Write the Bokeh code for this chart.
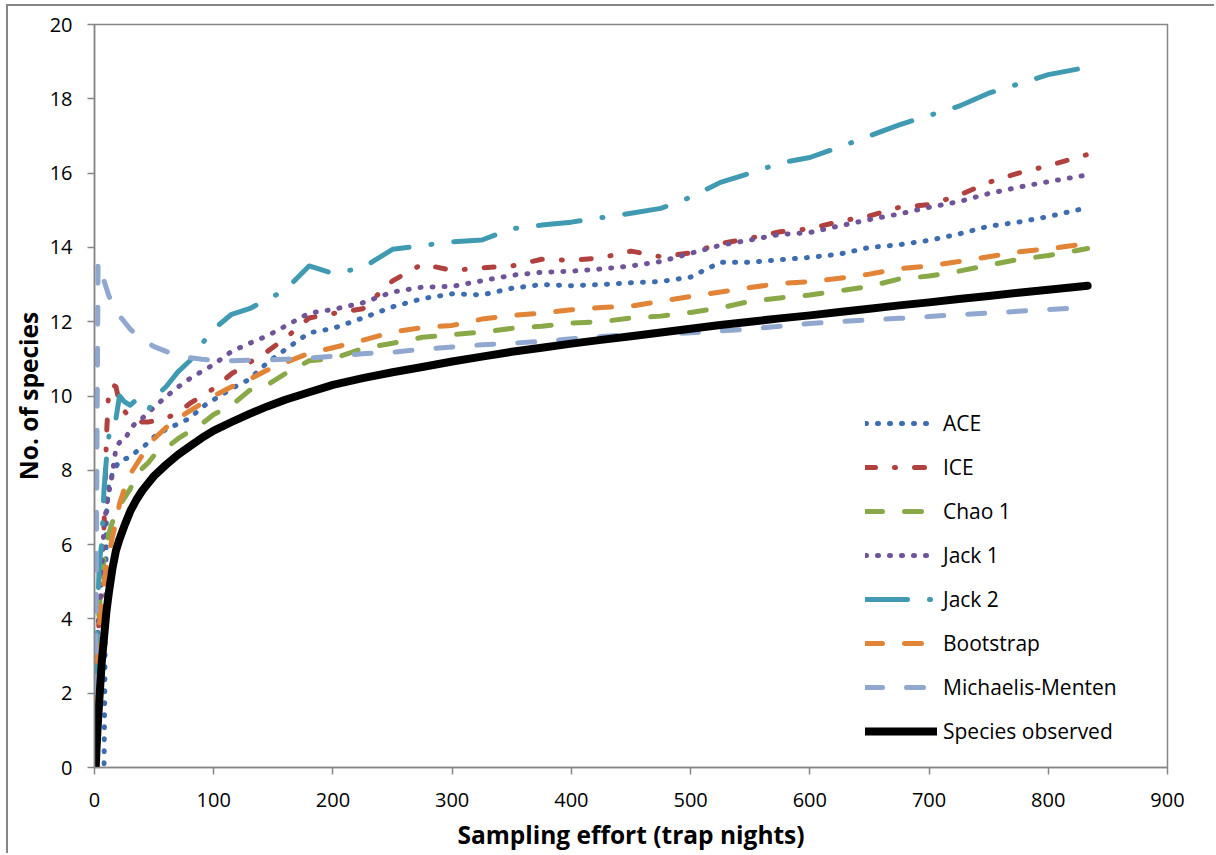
from bokeh.plotting import figure
from bokeh.models import Legend, LegendItem, Range1d, FixedTicker
from bokeh.embed import file_html
from bokeh.resources import INLINE

# Sampling effort (trap nights)
effort = [1, 2, 3, 4, 6, 8, 10, 12, 15, 18, 21, 25, 30, 35, 40, 45, 50, 60, 70, 80, 90,
          100, 115, 130, 145, 160, 180, 200, 225, 250, 275, 300, 325, 350, 375, 400,
          425, 450, 475, 500, 525, 550, 575, 600, 625, 650, 675, 700, 725, 750, 775,
          800, 833]

ace = [0, 0, 0, 0, 0, 0, 6.8, 7.6, 7.9, 8.1, 8.25, 8.3, 8.35, 8.5, 8.6, 8.75, 8.9, 9.1, 9.25,
       9.4, 9.7, 9.9, 10.2, 10.45, 10.9, 11.25, 11.7, 11.82, 12.1, 12.4, 12.62, 12.75, 12.72,
       12.9, 13.0, 12.97, 13.0, 13.05, 13.08, 13.2, 13.6, 13.6, 13.67, 13.73, 13.82, 14.0,
       14.07, 14.19, 14.36, 14.57, 14.68, 14.83, 15.07]

ice = [2.5, 3.2, 3.6, 4.0, 4.8, 6.5, 8.9, 10.2, 10.3, 10.25, 9.8, 9.6, 9.4, 9.35, 9.3, 9.3,
       9.33, 9.4, 9.55, 9.8, 10.0, 10.2, 10.6, 10.9, 11.2, 11.55, 12.1, 12.22, 12.35, 13.1,
       13.55, 13.38, 13.45, 13.5, 13.68, 13.65, 13.72, 13.9, 13.75, 13.85, 14.1, 14.25,
       14.42, 14.5, 14.7, 14.85, 15.08, 15.15, 15.4, 15.75, 16.0, 16.2, 16.5]

chao1 = [2.0, 3.0, 3.8, 4.3, 5.0, 5.6, 6.0, 6.3, 6.6, 6.85, 7.05, 7.25, 7.5, 7.85, 8.05,
         8.2, 8.4, 8.6, 8.85, 9.05, 9.25, 9.5, 9.75, 10.15, 10.3, 10.6, 10.95, 11.0, 11.28,
         11.42, 11.58, 11.65, 11.72, 11.82, 11.88, 11.96, 12.0, 12.1, 12.15, 12.25, 12.37,
         12.55, 12.64, 12.72, 12.83, 12.95, 13.15, 13.23, 13.36, 13.52, 13.68, 13.78, 13.97]

jack1 = [2.0, 3.0, 3.8, 4.3, 5.2, 6.5, 7.0, 7.4, 7.9, 8.6, 8.75, 8.8, 9.1, 9.3, 9.4, 9.55,
         9.7, 9.98, 10.24, 10.47, 10.66, 10.85, 11.2, 11.42, 11.62, 11.88, 12.23, 12.33,
         12.51, 12.8, 12.93, 12.95, 13.1, 13.25, 13.33, 13.36, 13.42, 13.5, 13.62, 13.84,
         14.06, 14.2, 14.35, 14.4, 14.58, 14.75, 14.9, 15.08, 15.23, 15.45, 15.62, 15.77, 15.95]

jack2 = [2.5, 3.5, 4.5, 5.5, 6.0, 7.5, 8.3, 8.9, 9.4, 9.4, 10.0, 9.85, 9.75, 9.9, 9.75, 9.6,
         9.95, 10.25, 10.65, 10.95, 11.4, 11.8, 12.2, 12.35, 12.6, 12.85, 13.5, 13.3, 13.45,
         13.95, 14.05, 14.15, 14.2, 14.5, 14.6, 14.68, 14.8, 14.92, 15.05, 15.35, 15.75,
         16.0, 16.27, 16.42, 16.7, 17.0, 17.3, 17.55, 17.8, 18.15, 18.4, 18.65, 18.85]

bootstrap = [1.8, 2.6, 3.3, 3.8, 4.5, 5.0, 5.4, 5.7, 6.2, 6.6, 7.1, 7.5, 7.9, 8.15, 8.4, 8.6,
             8.85, 9.15, 9.4, 9.6, 9.8, 10.0, 10.25, 10.45, 10.7, 10.9, 11.15, 11.3, 11.5,
             11.72, 11.84, 11.9, 12.07, 12.17, 12.23, 12.32, 12.38, 12.42, 12.55, 12.68, 12.8,
             12.92, 13.03, 13.08, 13.17, 13.28, 13.43, 13.5, 13.62, 13.75, 13.88, 13.96, 14.1]

mm = [2.0, 8.0, 13.6, 13.55, 13.35, 13.1, 12.9, 12.7, 12.5, 12.3, 12.15, 12.0, 11.8, 11.65,
      11.52, 11.42, 11.33, 11.2, 11.1, 11.03, 10.99, 10.96, 10.95, 10.96, 10.97, 10.99,
      11.02, 11.07, 11.14, 11.18, 11.26, 11.32, 11.38, 11.42, 11.47, 11.54, 11.6, 11.65,
      11.67, 11.7, 11.75, 11.8, 11.88, 11.95, 12.0, 12.05, 12.09, 12.14, 12.19, 12.23,
      12.28, 12.33, 12.38]

sobs = [0, 0.7, 1.3, 1.8, 2.8, 3.5, 4.2, 4.7, 5.35, 5.84, 6.15, 6.5, 6.9, 7.2, 7.45, 7.65,
        7.85, 8.15, 8.42, 8.65, 8.87, 9.07, 9.3, 9.52, 9.72, 9.9, 10.1, 10.3, 10.48, 10.64,
        10.78, 10.93, 11.06, 11.19, 11.3, 11.41, 11.51, 11.61, 11.71, 11.81, 11.91, 12.0,
        12.09, 12.17, 12.26, 12.35, 12.44, 12.52, 12.61, 12.69, 12.78, 12.86, 12.97]

x_ticks = [0, 100, 200, 300, 400, 500, 600, 700, 800, 900]
y_ticks = [0, 2, 4, 6, 8, 10, 12, 14, 16, 18, 20]

FONT = "Open Sans"
AXIS_GREY = "#868686"

p = figure(width=1208, height=849, x_range=Range1d(0, 900), y_range=Range1d(0, 20),
           output_backend="svg", toolbar_location=None,
           min_border_left=86, min_border_right=49, min_border_top=18, min_border_bottom=88)
p.styles = {"border-left": "2px solid #868686", "border-top": "2px solid #868686",
            "margin-left": "6px", "margin-top": "4px"}
p.grid.visible = False
p.outline_line_color = AXIS_GREY
p.outline_line_width = 1.5
p.background_fill_color = "white"
p.border_fill_color = "white"

for ax in (p.xaxis[0], p.yaxis[0]):
    ax.axis_line_color = AXIS_GREY
    ax.axis_line_width = 1.5
    ax.major_tick_line_color = AXIS_GREY
    ax.major_tick_line_width = 1.5
    ax.major_tick_out = 7
    ax.major_tick_in = 0
    ax.minor_tick_line_color = None
    ax.major_label_text_font = FONT
    ax.major_label_text_font_size = "20px"
    ax.major_label_text_color = "black"
    ax.axis_label_text_font = FONT
    ax.axis_label_text_font_size = "24.5px"
    ax.axis_label_text_font_style = "bold"
    ax.axis_label_text_color = "black"

p.xaxis[0].ticker = FixedTicker(ticks=x_ticks)
p.yaxis[0].ticker = FixedTicker(ticks=y_ticks)
p.xaxis[0].axis_label = "Sampling effort (trap nights)"
p.yaxis[0].axis_label = "No. of species"
p.xaxis[0].major_label_standoff = 18
p.yaxis[0].major_label_standoff = 15
p.xaxis[0].axis_label_standoff = 8
p.yaxis[0].axis_label_standoff = 2

series = [
    ("ACE", ace, "#3E6CB0", 5, "1 11"),
    ("ICE", ice, "#B0413E", 5, "10 19 1 19"),
    ("Chao 1", chao1, "#89A948", 5, "17 22"),
    ("Jack 1", jack1, "#70549A", 5, "1 11"),
    ("Jack 2", jack2, "#409BB2", 5, "42 22 1 22"),
    ("Bootstrap", bootstrap, "#E28437", 5, "17 22"),
    ("Michaelis-Menten", mm, "#90A8D0", 5, "17 24"),
    ("Species observed", sobs, "black", 8, "solid"),
]

items = []
for name, ys, color, w, dash in series:
    r = p.line(effort, ys, line_color=color, line_width=w, line_dash=dash, line_cap="round",
               line_join="round")
    items.append(LegendItem(label=name, renderers=[r]))

legend = Legend(items=items, location=(771, 22), orientation="vertical")
legend.border_line_color = None
legend.background_fill_alpha = 0
legend.padding = 0
legend.margin = 0
legend.spacing = 16
legend.glyph_width = 72
legend.glyph_height = 20
legend.label_height = 20
legend.label_standoff = 6
legend.label_text_font = FONT
legend.label_text_font_size = "21px"
legend.label_text_color = "black"
p.add_layout(legend, "center")

open("out.html", "w").write(file_html(p, INLINE))
